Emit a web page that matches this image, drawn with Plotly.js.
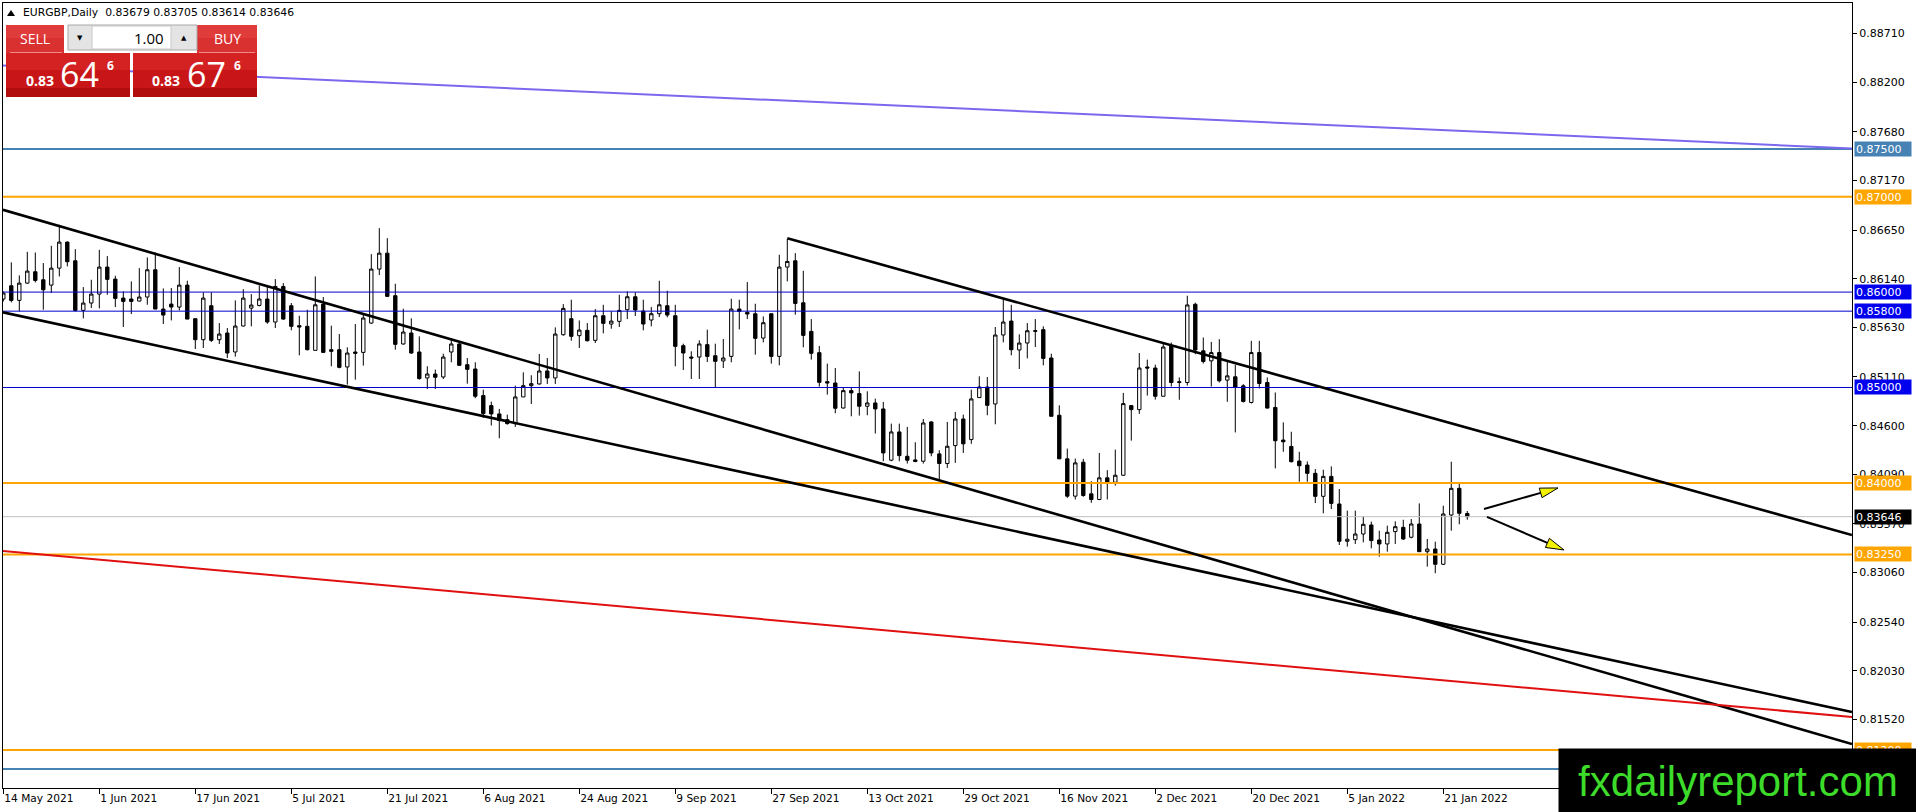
<!DOCTYPE html>
<html>
<head>
<meta charset="utf-8">
<script src="https://cdn.plot.ly/plotly-3.0.1.min.js"></script>
<style>
html,body{margin:0;padding:0;background:#fff;overflow:hidden;}
#chart{width:1916px;height:812px;}
</style>
</head>
<body>
<div id="chart"></div>
<script>
// ---------------- DATA ----------------
const symbolHeader = "EURGBP,Daily";
const headerOHLC = ["0.83679", "0.83705", "0.83614", "0.83646"];

const tickIndex = [0, 12, 24, 36, 48, 60, 72, 84, 96, 108, 120, 132, 144, 156, 168, 180];
const tickLabels = ["14 May 2021", "1 Jun 2021", "17 Jun 2021", "5 Jul 2021", "21 Jul 2021", "6 Aug 2021",
  "24 Aug 2021", "9 Sep 2021", "27 Sep 2021", "13 Oct 2021", "29 Oct 2021", "16 Nov 2021",
  "2 Dec 2021", "20 Dec 2021", "5 Jan 2022", "21 Jan 2022"];

const priceTicks = [0.88710, 0.88200, 0.87680, 0.87170, 0.86650, 0.86140, 0.85630, 0.85110,
  0.84600, 0.84090, 0.83570, 0.83060, 0.82540, 0.82030, 0.81520];

const openP = [
0.85927,0.86066,0.85913,0.86094,0.86213,0.86129,0.86073,0.86251,0.86524,0.86328,
0.85808,0.85885,0.85979,0.86262,0.86136,0.85937,0.85927,0.85906,0.85948,0.86234,
0.85822,0.85874,0.85843,0.86073,0.85721,0.85501,0.85857,0.85501,0.85571,0.85372,
0.85644,0.85832,0.85860,0.85927,0.85686,0.86059,0.85857,0.85648,0.85641,0.85389,
0.85874,0.85396,0.85396,0.85215,0.85372,0.85368,0.85675,0.86241,0.86408,0.85962,
0.85456,0.85571,0.85372,0.85100,0.85141,0.85110,0.85372,0.85456,0.85239,0.85194,
0.84915,0.84810,0.84723,0.84663,0.84621,0.84901,0.85019,0.85037,0.85173,0.85100,
0.85553,0.85721,0.85543,0.85599,0.85494,0.85752,0.85665,0.85693,0.85815,0.85951,
0.85801,0.85707,0.85773,0.85857,0.85752,0.85438,0.85319,0.85319,0.85449,0.85333,
0.85278,0.85326,0.85822,0.85787,0.85773,0.85518,0.85773,0.85326,0.86262,0.86328,
0.85888,0.85588,0.85365,0.85061,0.85047,0.84785,0.84967,0.84936,0.84803,0.84838,
0.84775,0.84238,0.84534,0.84279,0.84241,0.84227,0.84639,0.84304,0.84203,0.84391,
0.84670,0.84454,0.84894,0.85005,0.84827,0.85550,0.85696,0.85393,0.85466,0.85588,
0.85606,0.85309,0.84709,0.84252,0.83861,0.84217,0.83885,0.83826,0.84053,0.84007,
0.84080,0.84810,0.84768,0.85215,0.85204,0.84908,0.85436,0.85052,0.85052,0.85872,
0.85384,0.85279,0.85366,0.85077,0.85112,0.85017,0.84843,0.85366,0.85052,0.84791,
0.84449,0.84382,0.84229,0.84187,0.84100,0.83859,0.84068,0.83779,0.83388,0.83405,
0.83464,0.83559,0.83402,0.83360,0.83489,0.83534,0.83430,0.83569,0.83279,0.83307,
0.83147,0.83663,0.83943,0.83679];

const highP = [
0.86007,0.86311,0.86175,0.86422,0.86415,0.86304,0.86485,0.86705,0.86530,0.86450,
0.86052,0.86129,0.86443,0.86377,0.86171,0.86007,0.86112,0.86251,0.86363,0.86415,
0.86038,0.86042,0.86262,0.86119,0.85721,0.85997,0.85997,0.85675,0.85623,0.85913,
0.86031,0.85979,0.86070,0.86059,0.86136,0.86094,0.85885,0.85752,0.85815,0.86164,
0.85948,0.85648,0.85560,0.85421,0.85665,0.85780,0.86398,0.86670,0.86565,0.86087,
0.85826,0.85724,0.85536,0.85222,0.85187,0.85354,0.85518,0.85483,0.85309,0.85264,
0.84977,0.84852,0.84775,0.84716,0.85019,0.85159,0.85128,0.85351,0.85309,0.85630,
0.85874,0.85920,0.85703,0.85675,0.85822,0.85867,0.85798,0.85972,0.86007,0.85997,
0.85920,0.85843,0.86119,0.86014,0.85867,0.85459,0.85379,0.85494,0.85606,0.85459,
0.85508,0.85930,0.85920,0.86105,0.85878,0.85745,0.85773,0.86391,0.86558,0.86408,
0.86223,0.85717,0.85435,0.85250,0.85204,0.84995,0.85005,0.85169,0.84960,0.84883,
0.84848,0.84621,0.84621,0.84587,0.84426,0.84670,0.84646,0.84342,0.84639,0.84744,
0.84716,0.84977,0.85117,0.85110,0.85634,0.85930,0.85867,0.85557,0.85675,0.85717,
0.85641,0.85354,0.84813,0.84360,0.84255,0.84252,0.84018,0.84314,0.84133,0.84349,
0.84943,0.84810,0.85361,0.85292,0.85239,0.85466,0.85471,0.85105,0.85962,0.85889,
0.85524,0.85478,0.85506,0.85279,0.85237,0.85035,0.85489,0.85489,0.85105,0.84948,
0.84634,0.84536,0.84326,0.84225,0.84145,0.84138,0.84173,0.83936,0.83709,0.83709,
0.83649,0.83594,0.83499,0.83552,0.83597,0.83614,0.83621,0.83785,0.83412,0.83384,
0.83761,0.84222,0.83998,0.83705];

const lowP = [
0.85902,0.85892,0.85798,0.86087,0.86101,0.85815,0.85990,0.86164,0.86269,0.85798,
0.85724,0.85832,0.85829,0.85972,0.85843,0.85634,0.85770,0.85902,0.85867,0.85822,
0.85665,0.85703,0.85808,0.85717,0.85403,0.85414,0.85477,0.85456,0.85309,0.85323,
0.85641,0.85641,0.85850,0.85668,0.85623,0.85710,0.85599,0.85337,0.85389,0.85389,
0.85368,0.85222,0.85201,0.85030,0.85082,0.85229,0.85668,0.86178,0.85948,0.85396,
0.85449,0.85354,0.85082,0.84984,0.84984,0.85089,0.85264,0.85229,0.85040,0.84887,
0.84681,0.84601,0.84468,0.84611,0.84587,0.84901,0.84827,0.85030,0.85037,0.85037,
0.85543,0.85490,0.85414,0.85483,0.85466,0.85567,0.85616,0.85634,0.85717,0.85749,
0.85599,0.85641,0.85738,0.85735,0.85222,0.85183,0.85089,0.85089,0.85267,0.84995,
0.85204,0.85264,0.85609,0.85717,0.85344,0.85473,0.85250,0.85232,0.86112,0.85763,
0.85421,0.85292,0.85009,0.84925,0.84730,0.84779,0.84698,0.84705,0.84709,0.84517,
0.84227,0.84227,0.84227,0.84203,0.84217,0.84203,0.84279,0.84035,0.84157,0.84210,
0.84314,0.84409,0.84890,0.84709,0.84614,0.85473,0.85337,0.85194,0.85305,0.85424,
0.85232,0.84698,0.84252,0.83843,0.83826,0.83854,0.83791,0.83819,0.83826,0.83972,
0.84077,0.84443,0.84723,0.84915,0.84873,0.84908,0.85010,0.84871,0.85020,0.85349,
0.85251,0.85010,0.85052,0.84850,0.84529,0.84843,0.84832,0.84990,0.84780,0.84152,
0.84326,0.84215,0.84012,0.84012,0.83789,0.83681,0.83726,0.83349,0.83332,0.83360,
0.83377,0.83314,0.83227,0.83279,0.83360,0.83402,0.83419,0.83279,0.83122,0.83053,
0.83140,0.83499,0.83566,0.83614];

const closeP = [
0.85990,0.85913,0.86094,0.86220,0.86122,0.86024,0.86251,0.86524,0.86318,0.85808,
0.85885,0.85979,0.86262,0.86133,0.85934,0.85902,0.85902,0.85948,0.86234,0.85822,
0.85759,0.85843,0.86073,0.85717,0.85501,0.85937,0.85494,0.85560,0.85361,0.85644,
0.85937,0.85864,0.85927,0.85686,0.86059,0.85717,0.85641,0.85634,0.85396,0.85867,
0.85368,0.85379,0.85211,0.85361,0.85358,0.85728,0.86241,0.86408,0.85955,0.85452,
0.85581,0.85361,0.85093,0.85141,0.85107,0.85319,0.85456,0.85232,0.85190,0.84908,
0.84726,0.84723,0.84653,0.84621,0.84901,0.85019,0.85040,0.85173,0.85100,0.85560,
0.85829,0.85536,0.85602,0.85490,0.85752,0.85672,0.85696,0.85808,0.85951,0.85812,
0.85665,0.85773,0.85867,0.85759,0.85431,0.85361,0.85309,0.85456,0.85326,0.85274,
0.85309,0.85822,0.85798,0.85770,0.85515,0.85679,0.85326,0.86262,0.86321,0.85881,
0.85546,0.85358,0.85054,0.85047,0.84782,0.84967,0.84943,0.84803,0.84838,0.84775,
0.84314,0.84534,0.84286,0.84238,0.84224,0.84628,0.84314,0.84203,0.84384,0.84670,
0.84409,0.84880,0.85005,0.84813,0.85550,0.85686,0.85396,0.85466,0.85595,0.85595,
0.85305,0.84698,0.84252,0.83861,0.84210,0.83868,0.83826,0.84053,0.84007,0.84080,
0.84831,0.84768,0.85204,0.85204,0.84908,0.85424,0.85052,0.85059,0.85865,0.85393,
0.85272,0.85366,0.85070,0.85122,0.85000,0.84853,0.85366,0.85042,0.84784,0.84442,
0.84431,0.84222,0.84180,0.84100,0.83859,0.84068,0.83785,0.83388,0.83409,0.83464,
0.83566,0.83395,0.83360,0.83482,0.83541,0.83412,0.83569,0.83279,0.83307,0.83147,
0.83674,0.83943,0.83681,0.83646];

// horizontal levels: price, colour, width, label box colour
const levelPrices = [0.87500, 0.87000, 0.86000, 0.85800, 0.85000, 0.84000, 0.83250, 0.81200, 0.81000];
const levelColors = ["#4682B4", "#FFA500", "#0000CD", "#0000CD", "#0000CD", "#FFA500", "#FFA500", "#FFA500", "#4682B4"];
const levelWidths = [2, 2, 1, 1, 1, 2, 2, 2, 2];
const levelBoxColors = ["#4682B4", "#FFA500", "#0000EE", "#0000EE", "#0000EE", "#FFA500", "#FFA500", "#FFA500", "#4682B4"];
const levelBoxShown = [true, true, true, true, true, true, true, true, false];
const currentPrice = 0.83646;

// trend lines: [bar0, price0, bar1, price1]
const trendStart = [[-0.04, 0.86862], [-0.04, 0.85788], [98, 0.86564], [-0.04, 0.83286], [-0.04, 0.88374]];
const trendEnd   = [[231.09, 0.81263], [231.09, 0.81598], [231.09, 0.83454], [231.09, 0.81546], [231.09, 0.87505]];
const trendColors = ["#000000", "#000000", "#000000", "#E01010", "#7B68EE"];
const trendWidths = [2.6, 2.6, 2.6, 2, 2];

// arrows: start, base of head, tip, head corners
const arrowStart = [[185.09, 0.83726], [185.46, 0.83643]];
const arrowBase  = [[192.17, 0.83895], [193.02, 0.83371]];
const arrowTip   = [[194.34, 0.83947], [195.09, 0.83297]];
const arrowC1    = [[192.34, 0.83845], [192.77, 0.83323]];
const arrowC2    = [[192.00, 0.83945], [193.26, 0.83419]];

// ---------------- LAYOUT GEOMETRY ----------------
const W = 1916, H = 812;
const ML = 3, MR = 64, MT = 3, MB = 24;
const PW = W - ML - MR, PH = H - MT - MB;
const px = x => (x - ML) / PW;
const py = y => 1 - (y - MT) / PH;

const barIndex = openP.map((_, i) => i);

const traces = [{
  type: 'candlestick',
  x: barIndex, open: openP, high: highP, low: lowP, close: closeP,
  increasing: {line: {color: '#000000', width: 1}, fillcolor: '#FFFFFF'},
  decreasing: {line: {color: '#000000', width: 1}, fillcolor: '#000000'},
  whiskerwidth: 0,
  hoverinfo: 'skip',
  showlegend: false
}];

const shapes = [];
levelPrices.forEach((p, k) => {
  shapes.push({type: 'line', xref: 'paper', yref: 'y', x0: 0, x1: 1, y0: p, y1: p,
    line: {color: levelColors[k], width: levelWidths[k]}});
});
shapes.push({type: 'line', xref: 'paper', yref: 'y', x0: 0, x1: 1, y0: currentPrice, y1: currentPrice,
  line: {color: '#C0C0C0', width: 1}});
trendStart.forEach((s, k) => {
  shapes.push({type: 'line', xref: 'x', yref: 'y', x0: s[0], y0: s[1], x1: trendEnd[k][0], y1: trendEnd[k][1],
    line: {color: trendColors[k], width: trendWidths[k]}});
});
arrowStart.forEach((s, k) => {
  shapes.push({type: 'line', xref: 'x', yref: 'y', x0: s[0], y0: s[1], x1: arrowBase[k][0], y1: arrowBase[k][1],
    line: {color: '#000000', width: 2}});
  const t = arrowTip[k], a = arrowC1[k], b = arrowC2[k];
  shapes.push({type: 'path', xref: 'x', yref: 'y',
    path: `M ${a[0]} ${a[1]} L ${t[0]} ${t[1]} L ${b[0]} ${b[1]} Z`,
    fillcolor: '#F2F200', line: {color: '#000000', width: 1}});
});

function rect(x0, y0, x1, y1, fill, lineColor, lw) {
  shapes.push({type: 'rect', xref: 'paper', yref: 'paper', x0: px(x0), x1: px(x1), y0: py(y1), y1: py(y0),
    fillcolor: fill, line: {color: lineColor || fill, width: lw === undefined ? 0 : lw}});
}
rect(6, 25, 64, 53, '#D93030');
rect(6, 25, 64, 38, '#E03C3C');
rect(197, 25, 257, 53, '#D93030');
rect(197, 25, 257, 38, '#E03C3C');
rect(68, 25, 197, 50, '#E4E4E4', '#A8A8A8', 1);
rect(92, 26, 171, 49, '#FFFFFF', '#C8C8C8', 1);
rect(6, 53, 130, 97, '#C81618');
rect(6, 53, 130, 70, '#D42222');
rect(6, 88, 130, 97, '#B10C0E');
rect(133, 53, 257, 97, '#C81618');
rect(133, 53, 257, 70, '#D42222');
rect(133, 88, 257, 97, '#B10C0E');
shapes.push({type: 'line', xref: 'paper', yref: 'paper', x0: px(10), x1: px(62), y0: py(52.5), y1: py(52.5), line: {color: '#F08A8A', width: 1}});
shapes.push({type: 'line', xref: 'paper', yref: 'paper', x0: px(199), x1: px(255), y0: py(52.5), y1: py(52.5), line: {color: '#F08A8A', width: 1}});
shapes.push({type: 'path', xref: 'paper', yref: 'paper',
  path: `M ${px(7)} ${py(16)} L ${px(15)} ${py(16)} L ${px(11)} ${py(10)} Z`,
  fillcolor: '#000000', line: {color: '#000000', width: 0}});

const annotations = [];
function txt(x, y, text, size, color, family, xanchor, bold) {
  annotations.push({xref: 'paper', yref: 'paper', x: px(x), y: py(y), text: bold ? '<b>' + text + '</b>' : text,
    showarrow: false, xanchor: xanchor || 'left', yanchor: 'middle',
    font: {size: size, color: color, family: family}});
}
const NB = '\u00A0';
txt(21, 13, symbolHeader + NB + NB + headerOHLC.join(NB), 10.8, '#000000', 'DejaVu Sans', 'left');
txt(35, 38.5, 'SELL', 14, '#FFFFFF', 'Open Sans', 'center');
txt(227, 38.5, 'BUY', 14, '#FFFFFF', 'Open Sans', 'center');
txt(80, 38, '\u25BC', 7, '#000000', 'DejaVu Sans', 'center');
txt(184, 38, '\u25B2', 7, '#000000', 'DejaVu Sans', 'center');
txt(166, 38, '1.00', 15, '#000000', 'Open Sans', 'right');
txt(24, 81, '0.83', 14, '#FFFFFF', 'Open Sans', 'left', true);
txt(58, 74, '64', 34, '#FFFFFF', 'Open Sans', 'left');
txt(105, 66, '6', 12, '#FFFFFF', 'Open Sans', 'left', true);
txt(150, 81, '0.83', 14, '#FFFFFF', 'Open Sans', 'left', true);
txt(185, 74, '67', 34, '#FFFFFF', 'Open Sans', 'left');
txt(232, 66, '6', 12, '#FFFFFF', 'Open Sans', 'left', true);

function priceBox(p, bg) {
  annotations.push({xref: 'paper', yref: 'y', x: px(1854), y: p, xanchor: 'left', yanchor: 'middle',
    text: p.toFixed(5), showarrow: false, align: 'left', bgcolor: bg, width: 54, height: 12, borderpad: 1,
    font: {family: 'DejaVu Sans', size: 11, color: '#FFFFFF'}});
}
levelPrices.forEach((p, k) => { if (levelBoxShown[k]) priceBox(p, levelBoxColors[k]); });
priceBox(currentPrice, '#000000');

// watermark (drawn last, covers the bottom-right corner)
annotations.push({xref: 'paper', yref: 'paper', x: px(1558), y: py(748), xanchor: 'left', yanchor: 'top',
  text: 'fxdailyreport.com', showarrow: false, align: 'center', bgcolor: '#000000',
  width: 356, height: 62, borderpad: 1,
  font: {family: 'Liberation Sans', size: 42, color: '#3DDC2A'}});

const layout = {
  width: W, height: H,
  margin: {l: ML, r: MR, t: MT, b: MB, pad: 0},
  paper_bgcolor: '#FFFFFF', plot_bgcolor: '#FFFFFF',
  showlegend: false,
  boxgap: 0.4,
  xaxis: {
    range: [-0.0375, 231.09], tickmode: 'array', tickvals: tickIndex, ticktext: tickLabels,
    ticks: 'outside', ticklen: 5, tickcolor: '#000000', tickwidth: 1,
    showline: true, mirror: true, linecolor: '#000000', linewidth: 1,
    showgrid: false, zeroline: false, ticklabelposition: 'outside right',
    tickfont: {family: 'DejaVu Sans', size: 10.6, color: '#000000'},
    rangeslider: {visible: false}, fixedrange: true
  },
  yaxis: {
    side: 'right', range: [0.80802, 0.89030], tickmode: 'array', tickvals: priceTicks,
    ticktext: priceTicks.map(v => v.toFixed(5)),
    ticks: 'outside', ticklen: 4, tickcolor: '#000000', tickwidth: 1,
    showline: true, mirror: true, linecolor: '#000000', linewidth: 1,
    showgrid: false, zeroline: false,
    tickfont: {family: 'DejaVu Sans', size: 11, color: '#000000'}, fixedrange: true
  },
  shapes: shapes,
  annotations: annotations
};

Plotly.newPlot('chart', traces, layout, {staticPlot: true, displayModeBar: false});
</script>
</body>
</html>
